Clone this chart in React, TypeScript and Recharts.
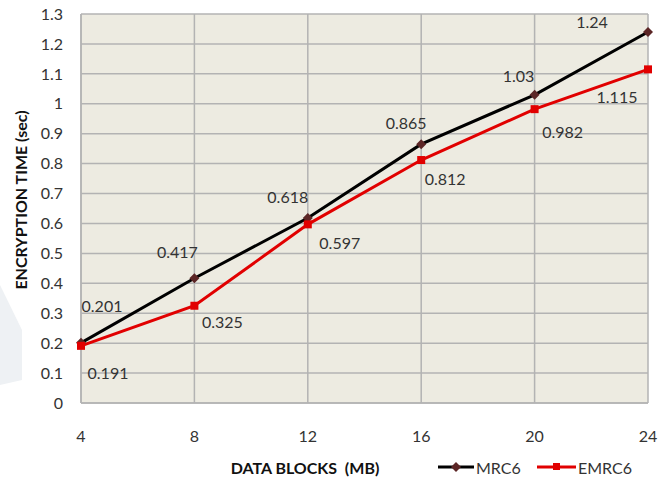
import React from "react";
import {
  CartesianGrid,
  LabelList,
  Line,
  LineChart,
  XAxis,
  YAxis,
} from "recharts";

// encryption time (sec) per data block size (MB)
const blocks = [4, 8, 12, 16, 20, 24];
const mrc6 = [0.201, 0.417, 0.618, 0.865, 1.03, 1.24];
const emrc6 = [0.191, 0.325, 0.597, 0.812, 0.982, 1.115];
const yTicks = [0, 0.1, 0.2, 0.3, 0.4, 0.5, 0.6, 0.7, 0.8, 0.9, 1, 1.1, 1.2, 1.3];

const data = blocks.map((mb, i) => ({ mb, mrc6: mrc6[i], emrc6: emrc6[i] }));

// hand-placed label offsets, like the manually dragged labels in the sheet
const mrcLabelOffsets = [
  [21, -37],
  [-17, -27],
  [-20, -22],
  [-15, -22],
  [-16, -19],
  [-56, -10],
];
const emrcLabelOffsets = [
  [27, 27],
  [28, 16],
  [32, 18],
  [24, 18],
  [28, 22],
  [-31, 27],
];

const FONT = "Lato, 'Open Sans', sans-serif";
const TEXT = "#333333";
const GRID = "#b3b3b3";
const PLOT_BG = "#edebe1";
const BLACK = "#000000";
const DIAMOND = "#5c2626";
const RED = "#e10000";

function makeLabel(offsets: number[][]) {
  return (props: any) => {
    const { x, y, value, index } = props;
    const [dx, dy] = offsets[index] ?? [0, -12];
    return (
      <text
        x={Number(x) + dx}
        y={Number(y) + dy}
        textAnchor="middle"
        dominantBaseline="central"
        fontFamily={FONT}
        fontSize={16}
        fill={TEXT}
      >
        {value}
      </text>
    );
  };
}

function DiamondDot(props: any) {
  const { cx, cy } = props;
  if (cx == null || cy == null) return null;
  const r = 5;
  return (
    <polygon
      points={`${cx},${cy - r} ${cx + r},${cy} ${cx},${cy + r} ${cx - r},${cy}`}
      fill={DIAMOND}
    />
  );
}

function SquareDot(props: any) {
  const { cx, cy } = props;
  if (cx == null || cy == null) return null;
  const s = 4;
  return <rect x={cx - s} y={cy - s} width={s * 2} height={s * 2} fill={RED} />;
}

function ChartLegend() {
  return (
    <svg width={230} height={24}>
      <line x1={2} y1={12} x2={38} y2={12} stroke={BLACK} strokeWidth={3} />
      <polygon points="20,7 25,12 20,17 15,12" fill={DIAMOND} />
      <text x={40} y={12} dominantBaseline="central" fontFamily={FONT} fontSize={16} fill={TEXT}>
        MRC6
      </text>
      <line x1={101} y1={12} x2={140} y2={12} stroke={RED} strokeWidth={3} />
      <rect x={117} y={8} width={7} height={7} fill={RED} />
      <text x={142} y={12} dominantBaseline="central" fontFamily={FONT} fontSize={16} fill={TEXT}>
        EMRC6
      </text>
    </svg>
  );
}

function XTitle() {
  return (
    <text
      x={305}
      y={467}
      textAnchor="middle"
      dominantBaseline="central"
      fontFamily={FONT}
      fontSize={16}
      fontWeight={700}
      fill="#111"
      style={{ whiteSpace: "pre" }}
    >
      DATA BLOCKS  (MB)
    </text>
  );
}

function YTitle() {
  return (
    <text
      x={20}
      y={200}
      transform="rotate(-90 20 200)"
      textAnchor="middle"
      dominantBaseline="central"
      fontFamily={FONT}
      fontSize={16}
      fontWeight={700}
      fill="#111"
    >
      ENCRYPTION TIME (sec)
    </text>
  );
}

export default function App() {
  return (
    <div
      style={{
        position: "absolute",
        left: 0,
        top: 0,
        width: 672,
        height: 485,
        background: "#fff",
        overflow: "hidden",
      }}
    >
      {/* faint watermark shape at the left edge */}
      <svg width={30} height={120} style={{ position: "absolute", left: 0, top: 285 }}>
        <polygon points="0,0 22,45 22,95 0,100" fill="#eef1f4" />
      </svg>
      <LineChart
        width={672}
        height={485}
        data={data}
        margin={{ top: 14, right: 24, bottom: 0, left: 0 }}
        style={{ position: "absolute", left: 0, top: 0 }}
      >
        <CartesianGrid stroke={GRID} strokeWidth={1.5} fill={PLOT_BG} />
        <XAxis
          dataKey="mb"
          type="number"
          domain={[4, 24]}
          ticks={blocks}
          axisLine={{ stroke: GRID, strokeWidth: 1.5 }}
          tickLine={false}
          tickMargin={22}
          height={82}
          tick={{ fill: TEXT, fontSize: 16, fontFamily: FONT }}
          label={{ content: () => <XTitle /> }}
        />
        <YAxis
          type="number"
          domain={[0, 1.3]}
          ticks={yTicks}
          interval={0}
          axisLine={{ stroke: GRID, strokeWidth: 1.5 }}
          tickLine={false}
          tickMargin={12}
          width={81}
          tick={{ fill: TEXT, fontSize: 16, fontFamily: FONT }}
          tickFormatter={(v) => String(Number(Number(v).toFixed(1)))}
          label={{ content: () => <YTitle /> }}
        />
        <Line
          dataKey="mrc6"
          name="MRC6"
          stroke={BLACK}
          strokeWidth={3}
          dot={<DiamondDot />}
          activeDot={false}
          isAnimationActive={false}
        >
          <LabelList dataKey="mrc6" content={makeLabel(mrcLabelOffsets)} />
        </Line>
        <Line
          dataKey="emrc6"
          name="EMRC6"
          stroke={RED}
          strokeWidth={3}
          dot={<SquareDot />}
          activeDot={false}
          isAnimationActive={false}
        >
          <LabelList dataKey="emrc6" content={makeLabel(emrcLabelOffsets)} />
        </Line>
      </LineChart>
      <div style={{ position: "absolute", left: 436, top: 455 }}>
        <ChartLegend />
      </div>
    </div>
  );
}
